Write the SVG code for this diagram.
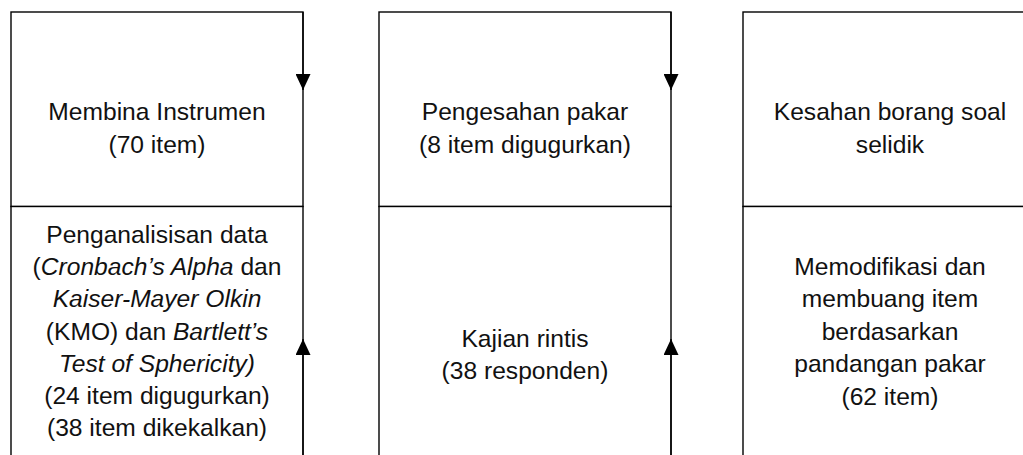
<svg xmlns="http://www.w3.org/2000/svg" width="1023" height="455" viewBox="0 0 1023 455">
<style>
.box{fill:#fff;stroke:#000;stroke-width:1.4}
.t{font-family:"Liberation Sans",Arial,sans-serif;font-size:24.6px;fill:#111;text-anchor:middle}
.i{font-style:italic}
.c{stroke:#000;stroke-width:1.4;fill:none}
</style>
<defs>
<marker id="ah" viewBox="0 0 16 15" refX="16" refY="7.5" markerWidth="16" markerHeight="15" markerUnits="userSpaceOnUse" orient="auto">
<path d="M0,0 L16,7.5 L0,15 Z" fill="#000"/>
</marker>
</defs>
<rect width="1023" height="455" fill="#fff"/>
<g id="n1">
<rect class="box" x="11" y="12" width="292" height="194.5"/>
<text class="t" x="157" y="120">Membina Instrumen</text>
<text class="t" x="157" y="153">(70 item)</text>
</g>
<g id="n2">
<rect class="box" x="379" y="12" width="292" height="194.5"/>
<text class="t" x="525" y="120">Pengesahan pakar</text>
<text class="t" x="525" y="153">(8 item digugurkan)</text>
</g>
<g id="n3">
<rect class="box" x="743" y="12" width="292" height="194.5"/>
<text class="t" x="890" y="120">Kesahan borang soal</text>
<text class="t" x="890" y="153">selidik</text>
</g>
<g id="n4">
<rect class="box" x="11" y="206.5" width="292" height="270"/>
<text class="t" x="157" y="243">Penganalisisan data</text>
<text class="t" x="157" y="275">(<tspan class="i">Cronbach’s Alpha</tspan> dan</text>
<text class="t i" x="157" y="307">Kaiser-Mayer Olkin</text>
<text class="t" x="157" y="340">(KMO) dan <tspan class="i">Bartlett’s</tspan></text>
<text class="t i" x="157" y="372">Test of Sphericity)</text>
<text class="t" x="157" y="404">(24 item digugurkan)</text>
<text class="t" x="157" y="436">(38 item dikekalkan)</text>
</g>
<g id="n5">
<rect class="box" x="379" y="206.5" width="292" height="270"/>
<text class="t" x="525" y="347">Kajian rintis</text>
<text class="t" x="525" y="379">(38 responden)</text>
</g>
<g id="n6">
<rect class="box" x="743" y="206.5" width="292" height="270"/>
<text class="t" x="890" y="275">Memodifikasi dan</text>
<text class="t" x="890" y="307">membuang item</text>
<text class="t" x="890" y="340">berdasarkan</text>
<text class="t" x="890" y="372">pandangan pakar</text>
<text class="t" x="890" y="405">(62 item)</text>
</g>
<g id="connectors">
<path class="c" d="M303,12 L303,90" marker-end="url(#ah)"/>
<path class="c" d="M303,455 L303,339" marker-end="url(#ah)"/>
<path class="c" d="M671,12 L671,90" marker-end="url(#ah)"/>
<path class="c" d="M671,455 L671,339" marker-end="url(#ah)"/>
</g>
</svg>
